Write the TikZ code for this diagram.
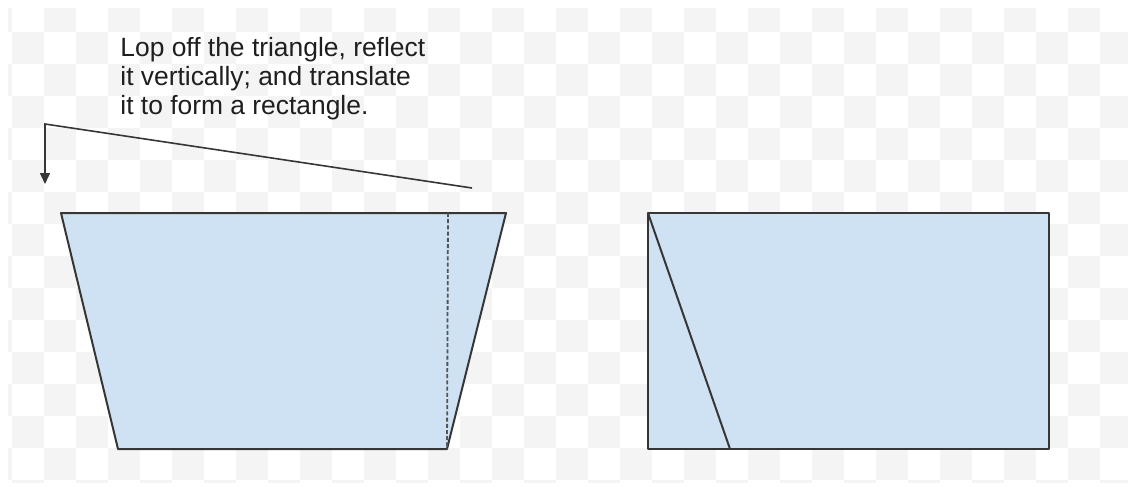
\documentclass[tikz,border=0pt]{standalone}
\usepackage{fontspec}
\setmainfont{Liberation Sans}
\usepackage{tikz}
\usetikzlibrary{arrows.meta}

\definecolor{paleblue}{HTML}{CFE2F3}
\definecolor{edgegrey}{HTML}{363636}
\definecolor{checkgrey}{HTML}{F4F4F4}

\begin{document}
\begin{tikzpicture}[
    x=0.5pt, y=-0.5pt,
    checker/.style={fill=checkgrey},
    piece/.style={draw=edgegrey, fill=paleblue, line width=1pt, line join=round},
    cutline/.style={draw=edgegrey, line width=1pt},
    fold/.style={draw=edgegrey!85, line width=0.9pt, dash pattern=on 2pt off 1.1pt},
    arrow/.style={draw=edgegrey, line width=0.8pt, -{Triangle[width=5pt,length=5.5pt]}},
    note/.style={anchor=north west, align=left, inner sep=0pt, text=black!88,
                 font=\fontsize{13.2pt}{14.6pt}\selectfont}
]
\useasboundingbox (0,0) rectangle (1128,487);
\fill[white] (0,0) rectangle (1128,487);

% transparency checkerboard
\begin{scope}
\clip (8,8) rectangle (1128,482);
\foreach \c in {-1,...,35}
  \foreach \r in {0,...,15} {
    \pgfmathtruncatemacro\odd{mod(\c+\r+100,2)}
    \ifnum\odd=1 \fill[checker] (12+32*\c,32*\r) rectangle ++(32,32); \fi
  }
\end{scope}

% left: trapezoid with the triangle to lop off
\coordinate (tl) at (61,213);
\coordinate (tr) at (506,213);
\coordinate (br) at (447,449);
\coordinate (bl) at (118,449);
\coordinate (cuttop) at (448,213);
\filldraw[piece] (tl) -- (tr) -- (br) -- (bl) -- cycle;
\draw[fold] (cuttop) -- (br);

% right: rectangle formed
\coordinate (rtl) at (648,213);
\coordinate (rbr) at (1049,449);
\coordinate (rcut) at (730,449);
\filldraw[piece] (rtl) rectangle (rbr);
\draw[cutline] (rtl) -- (rcut);

% instruction
\node[note] (note) at (120,37) {Lop off the triangle, reflect\\it vertically; and translate\\it to form a rectangle.};
\coordinate (start) at (472,188);
\coordinate (bend) at (45,124);
\coordinate (tip) at (45,184);
\draw[arrow] (start) -- (bend) -- (tip);
\end{tikzpicture}
\end{document}
